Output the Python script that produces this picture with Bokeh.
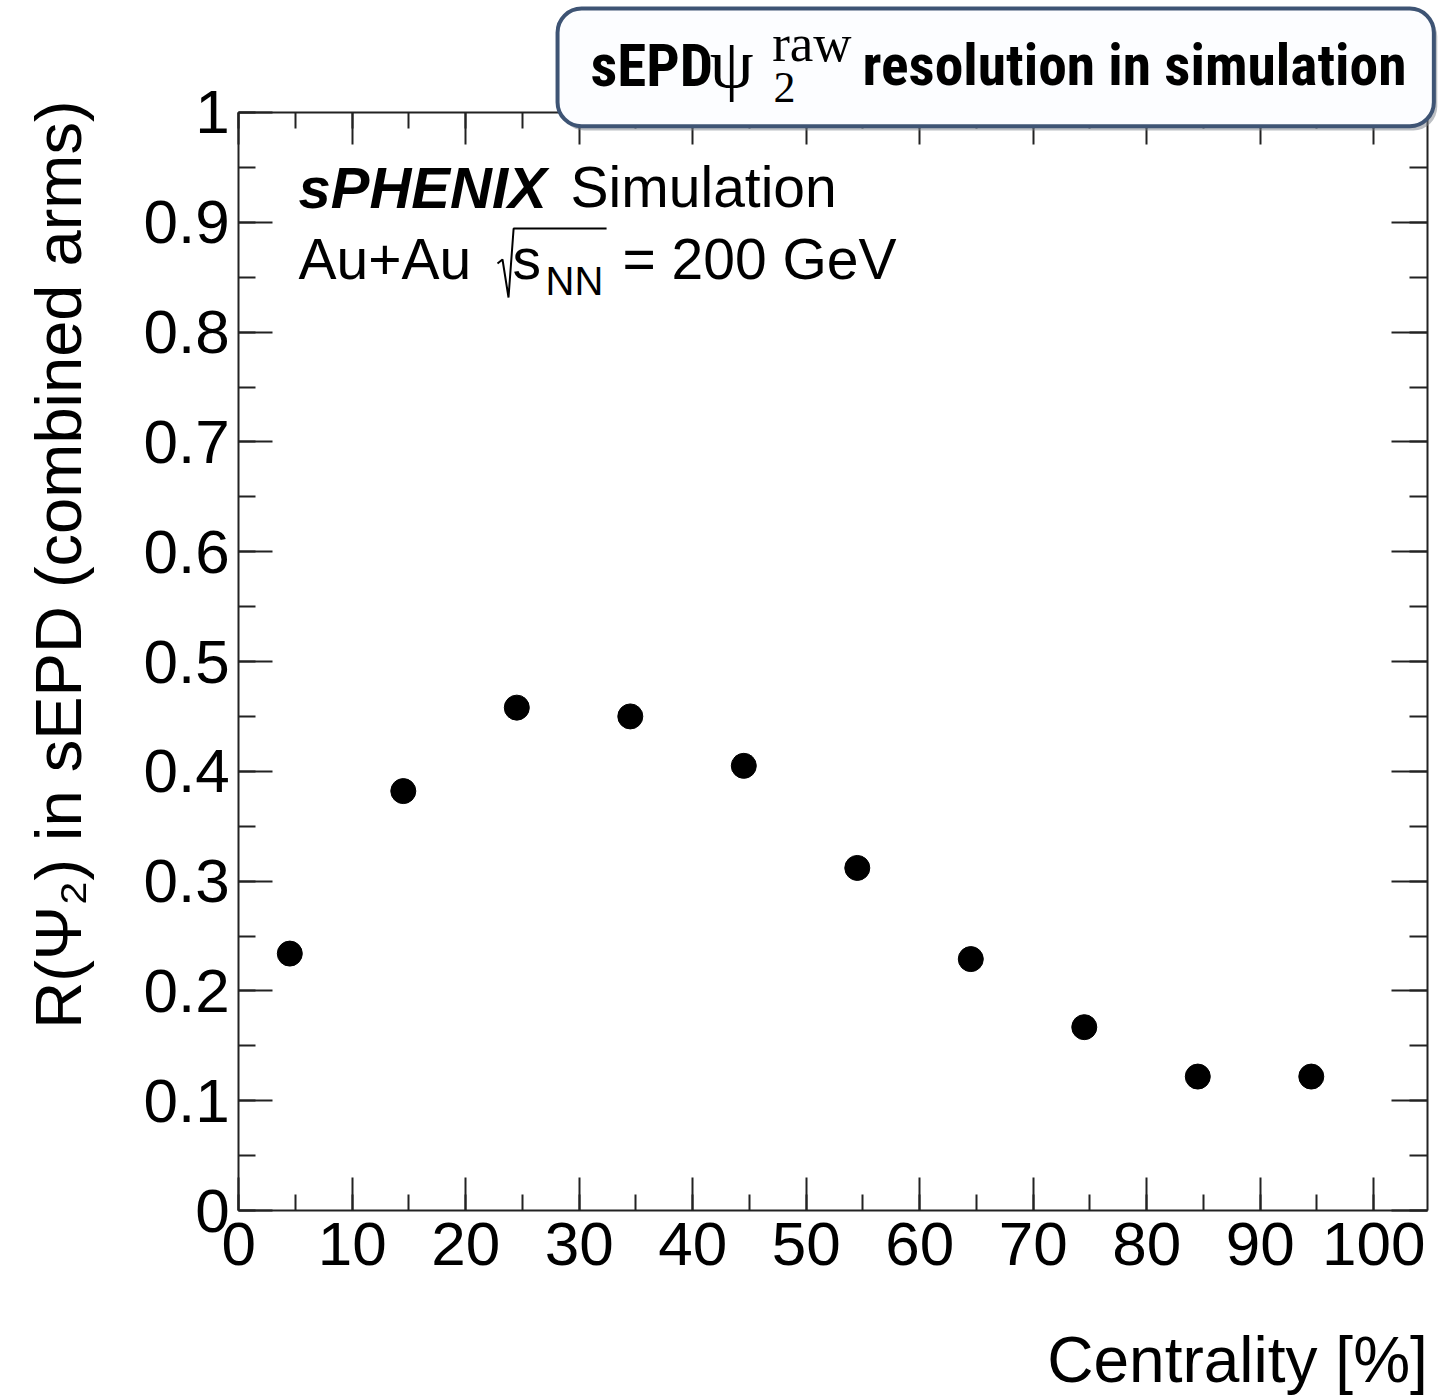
import math
from bokeh.plotting import figure
from bokeh.models import (LinearAxis, SingleIntervalTicker, CustomJSTickFormatter,
                          Label, BoxAnnotation, Range1d, ColumnDataSource)
from bokeh.embed import file_html
from bokeh.resources import INLINE

# ---- data ----
centrality = [4.5, 14.5, 24.5, 34.5, 44.5, 54.5, 64.5, 74.5, 84.5, 94.5]
resolution = [0.234, 0.382, 0.458, 0.450, 0.405, 0.312, 0.229, 0.167, 0.122, 0.122]
x_tick_step = 10
y_tick_step = 0.1
x_axis_end = 104.77
y_axis_end = 1.0
x_title = "Centrality [%]"
y_title = "R(\u03A8\u2082) in sEPD (combined arms)"

SANS = "Liberation Sans"
NARROW = "'Roboto Condensed', 'Noto Sans Condensed', 'DejaVu Sans Condensed', 'Liberation Sans'"
SERIF = "Liberation Serif"
INK = "#222222"

# whole canvas is the frame; the axes are pinned with fixed_location
p = figure(width=1448, height=1399, x_range=Range1d(-20.99, 106.59),
           y_range=Range1d(-0.1721, 1.1020),
           output_backend="svg", toolbar_location=None,
           min_border_left=0, min_border_right=0, min_border_top=0, min_border_bottom=0)
p.background_fill_color = "white"
p.border_fill_color = "white"
p.outline_line_color = None
p.xgrid.visible = False
p.ygrid.visible = False

blank = CustomJSTickFormatter(code="return '';")
yfmt = CustomJSTickFormatter(code="return (Math.round(tick*10)/10).toString();")


def style(ax, maj, mnr):
    ax.axis_line_color = INK
    ax.axis_line_width = 2
    ax.major_tick_line_color = INK
    ax.major_tick_line_width = 2
    ax.minor_tick_line_color = INK
    ax.minor_tick_line_width = 2
    ax.major_tick_in = maj
    ax.major_tick_out = 0
    ax.minor_tick_in = mnr
    ax.minor_tick_out = 0
    ax.major_label_text_font = SANS
    ax.major_label_text_font_size = "62px"
    ax.major_label_text_color = "black"


xa = p.xaxis[0]
xa.ticker = SingleIntervalTicker(interval=x_tick_step, num_minor_ticks=2)
xa.fixed_location = 0
xa.bounds = (0, x_axis_end)
style(xa, 33, 16)
xa.major_label_standoff = 12

ya = p.yaxis[0]
ya.ticker = SingleIntervalTicker(interval=y_tick_step, num_minor_ticks=2)
ya.formatter = yfmt
ya.fixed_location = 0
ya.bounds = (0, y_axis_end)
style(ya, 34, 17)
ya.major_label_standoff = 9

top = LinearAxis(ticker=SingleIntervalTicker(interval=x_tick_step, num_minor_ticks=2),
                 formatter=blank, fixed_location=y_axis_end, bounds=(0, x_axis_end))
style(top, 32, 16)
p.add_layout(top, "above")

right = LinearAxis(ticker=SingleIntervalTicker(interval=y_tick_step, num_minor_ticks=2),
                   formatter=blank, fixed_location=x_axis_end, bounds=(0, y_axis_end))
style(right, 36, 18)
p.add_layout(right, "right")

src = ColumnDataSource(dict(x=centrality, y=resolution))
p.scatter("x", "y", source=src, size=25, color="black", marker="circle")

# axis titles
p.add_layout(Label(x=-15.9, y=1.011, text=y_title, angle=math.pi / 2,
                   text_align="right", text_baseline="alphabetic",
                   text_font=SANS, text_font_size="65px", text_color="black"))
p.add_layout(Label(x=x_axis_end, y=-0.1357, text=x_title, text_align="right",
                   text_baseline="alphabetic", text_font=SANS, text_font_size="64px",
                   text_color="black"))

# title box with shadow
p.add_layout(BoxAnnotation(left=28.35, right=105.6, top=1.091, bottom=0.9835,
                           fill_color="#7a7f88", fill_alpha=0.5, line_alpha=0,
                           border_radius=24, level="overlay"))
p.add_layout(BoxAnnotation(left=28.09, right=105.3, top=1.0947, bottom=0.9875,
                           fill_color="#fcfdff", fill_alpha=1.0, line_color="#3e5474",
                           line_alpha=1.0, line_width=4, border_radius=24, level="overlay"))


def lab(x, y, t, font, size, style="normal"):
    p.add_layout(Label(x=x, y=y, text=t, text_font=font, text_font_size=size,
                       text_font_style=style, text_color="black",
                       text_align="left", text_baseline="alphabetic", level="overlay"))


lab(30.99, 1.0424, "sEPD", NARROW, "59px", "bold")
lab(41.5, 1.0445, "\u03C8", SERIF, "70px")
lab(47.12, 1.0225, "2", SERIF, "44px")
lab(47.0, 1.0633, "raw", SERIF, "53px")
lab(54.96, 1.0424, "resolution in simulation", NARROW, "57.5px", "bold")

# experiment text
lab(5.27, 0.9321, "sPHENIX", SANS, "58px", "bold italic")
lab(29.24, 0.9321, "Simulation", SANS, "57px")
lab(5.27, 0.8665, "Au+Au", SANS, "57px")
lab(24.12, 0.8665, "s", SANS, "57px")
lab(27.03, 0.8461, "NN", SANS, "40px")
lab(33.81, 0.8665, "= 200 GeV", SANS, "57px")

# square-root sign drawn as a stroke
radical_x = [22.80, 23.24, 23.77, 24.22, 32.41]
radical_y = [0.8625, 0.8661, 0.8315, 0.8944, 0.8944]
p.line(radical_x, radical_y, line_color="black", line_width=2)

open("out.html", "w").write(file_html(p, INLINE))
